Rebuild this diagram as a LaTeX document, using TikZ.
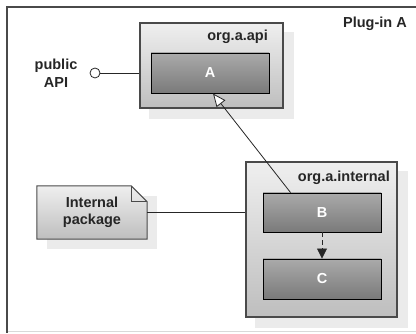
\documentclass[tikz,border=0pt]{standalone}
\usepackage{fontspec}
\setmainfont{Liberation Sans}
\usetikzlibrary{arrows.meta,backgrounds,calc}
\definecolor{shadowc}{HTML}{EBEBEB}
\definecolor{framec}{HTML}{4A4A4A}
\definecolor{pkgtop}{HTML}{EFEFEF}
\definecolor{pkgbot}{HTML}{BEBEBE}
\definecolor{clstop}{HTML}{AAAAAA}
\definecolor{clsbot}{HTML}{7A7A7A}
\begin{document}
\begin{tikzpicture}[x=1pt,y=-1pt,
  every node/.style={font=\fontsize{14.5}{17.5}\selectfont\bfseries, text=black!85},
  pkgbox/.style={draw=framec, line width=1.1pt, top color=pkgtop, bottom color=pkgbot, inner sep=0pt},
  clsbox/.style={draw=black, line width=0.9pt, top color=clstop, bottom color=clsbot, inner sep=0pt, minimum width=118pt, minimum height=40pt, text=white},
  notebox/.style={inner sep=0pt, minimum width=110pt, minimum height=53pt, align=center},
  lbl/.style={inner sep=0pt, anchor=east},
  conn/.style={line width=0.8pt, draw=black!85}
]
\useasboundingbox (0,0) rectangle (416,334);

% packages and classes
\node[pkgbox, minimum width=143pt, minimum height=85pt] (api) at (211.5,65.5) {};
\node[pkgbox, minimum width=151pt, minimum height=155pt] (int) at (321.5,239.5) {};
\node[clsbox] (A) at (210,73) {A};
\node[clsbox, minimum height=39pt] (B) at (322,212.5) {B};
\node[clsbox] (C) at (322,279) {C};

\node[lbl] (apilbl) at (268,37) {org.a.api};
\node[lbl] (intlbl) at (390,178) {org.a.internal};
\node[lbl] (plug) at (407,24) {Plug-in A};

\node[notebox] (note) at (92,212.5) {Internal\\package};
\node[align=center, inner sep=0pt] (publbl) at (56,73) {public\\API};
\node[circle, draw=black!85, line width=0.8pt, fill=white, minimum size=10pt, inner sep=0pt] (pub) at (95,73) {};

% connectors
\draw[conn] (pub.east) -- (pub -| api.west);
\draw[conn] (note.east) -- (note.east -| int.west);
\draw[conn, -{Triangle[fill=white, length=13pt, width=11pt, line width=0.8pt]}]
  ($(B.north west)+(28,0)$) -- ($(A.south)+(3,0)$);
\draw[conn, dashed, dash pattern=on 5pt off 3pt, -{Triangle[length=10pt, width=10pt]}] (B.south) -- (C.north);

\begin{scope}[on background layer]
  % outer frame
  \draw[black!15, line width=1pt] (7,332) -- (416,332);
  \draw[framec, line width=2pt] (7,333) -- (7,7) -- (416,7);
  % shadows
  \fill[shadowc] ($(api.north west)+(10,10)$) rectangle ($(api.south east)+(10,10)$);
  \fill[shadowc] ($(int.north west)+(10,10)$) rectangle ($(int.south east)+(10,10)$);
  \fill[shadowc] ($(note.north west)+(10,10)$) rectangle ($(note.south east)+(10,10)$);
  % note shape
  \shade[top color=pkgtop, bottom color=pkgbot, draw=framec, line width=1pt]
    (note.north west) -- ($(note.north east)+(-16,0)$) -- ($(note.north east)+(0,16)$)
    -- (note.south east) -- (note.south west) -- cycle;
  \draw[framec, line width=0.8pt] ($(note.north east)+(-16,0)$) -- ($(note.north east)+(-16,16)$) -- ($(note.north east)+(0,16)$);
\end{scope}
\end{tikzpicture}
\end{document}
